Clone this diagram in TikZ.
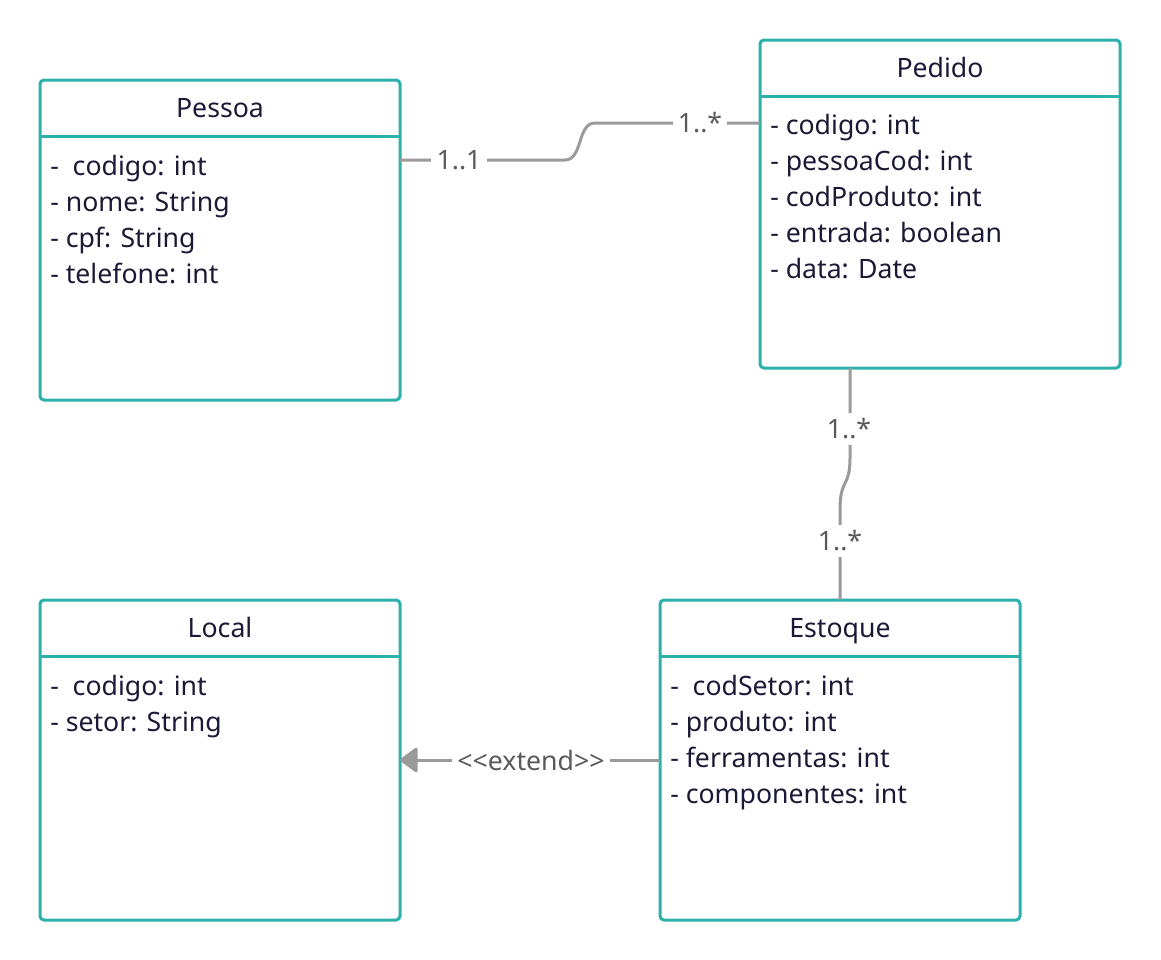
\documentclass[tikz,border=0pt]{standalone}
\usepackage{fontspec}
\setmainfont{Noto Sans}
\usetikzlibrary{arrows.meta}
\usetikzlibrary{calc}
\definecolor{classteal}{HTML}{2BB0AA}
\definecolor{ink}{HTML}{1A1A36}
\definecolor{linegray}{HTML}{9A9A9A}
\definecolor{multgray}{HTML}{5A5A5A}

\begin{document}
\begin{tikzpicture}[x=0.75pt,y=-0.75pt]
        \tikzset{class/.style = {shape=rectangle,draw=classteal,line width=2.25pt,rounded corners=3pt,outer sep=0pt,minimum width=270pt,anchor=north west}}
        \tikzset{divider/.style = {draw=classteal,line width=2.25pt}}
        \tikzset{title/.style = {anchor=base,text=ink,font=\fontsize{20}{22}\selectfont}}
        \tikzset{attrs/.style = {anchor=north west,align=left,inner sep=0pt,text=ink,font=\fontsize{20}{27}\selectfont}}
        \tikzset{edge/.style = {draw=linegray,line width=2.25pt}}
        \tikzset{mult/.style = {fill=white,inner sep=4pt,text=multgray,font=\fontsize{20}{22}\selectfont}}
        \useasboundingbox (0,0) rectangle (1161,960);

        \node[class,minimum height=240pt] (pessoa) at (40,80) {};
        \node[title] (pessoaT) at (220,117) {Pessoa};
        \draw[divider] ($(pessoa.north west)+(0,56)$) -- ($(pessoa.north east)+(0,56)$);
        \node[attrs] (pessoaA) at (50,155) {-~ codigo: int\\- nome: String\\- cpf: String\\- telefone: int};

        \node[class,minimum height=246pt] (pedido) at (760,40) {};
        \node[title] (pedidoT) at (940,77) {Pedido};
        \draw[divider] ($(pedido.north west)+(0,56)$) -- ($(pedido.north east)+(0,56)$);
        \node[attrs] (pedidoA) at (770,114) {- codigo: int\\- pessoaCod: int\\- codProduto: int\\- entrada: boolean\\- data: Date};

        \node[class,minimum height=240pt] (local) at (40,600) {};
        \node[title] (localT) at (220,637) {Local};
        \draw[divider] ($(local.north west)+(0,56)$) -- ($(local.north east)+(0,56)$);
        \node[attrs] (localA) at (50,675) {-~ codigo: int\\- setor: String};

        \node[class,minimum height=240pt] (estoque) at (660,600) {};
        \node[title] (estoqueT) at (840,637) {Estoque};
        \draw[divider] ($(estoque.north west)+(0,56)$) -- ($(estoque.north east)+(0,56)$);
        \node[attrs] (estoqueA) at (670,675) {-~ codSetor: int\\- produto: int\\- ferramentas: int\\- componentes: int};

        \draw[edge] ($(pessoa.north east)+(0,80)$) -- (565,160)
            .. controls (583,160) and (577,123) .. (595,123) -- ($(pedido.north west)+(0,83)$);
        \node[mult] (m11) at (459,160) {1..1};
        \node[mult] (m1n) at (700,123) {1..*};

        \draw[edge] ($(pedido.south west)+(90,0)$) -- (850,458)
            .. controls (850,488) and (840,478) .. (840,510) -- (estoque.north);
        \node[mult] (m2n) at (849,429) {1..*};
        \node[mult] (m3n) at (840,541) {1..*};

        \draw[edge,-{Triangle[length=14pt,width=20pt,round]}] (estoque.west) -- (local.east);
        \node[mult] (ext) at (531,760) {<\kern0pt<extend>\kern0pt>};
    \end{tikzpicture}
\end{document}
